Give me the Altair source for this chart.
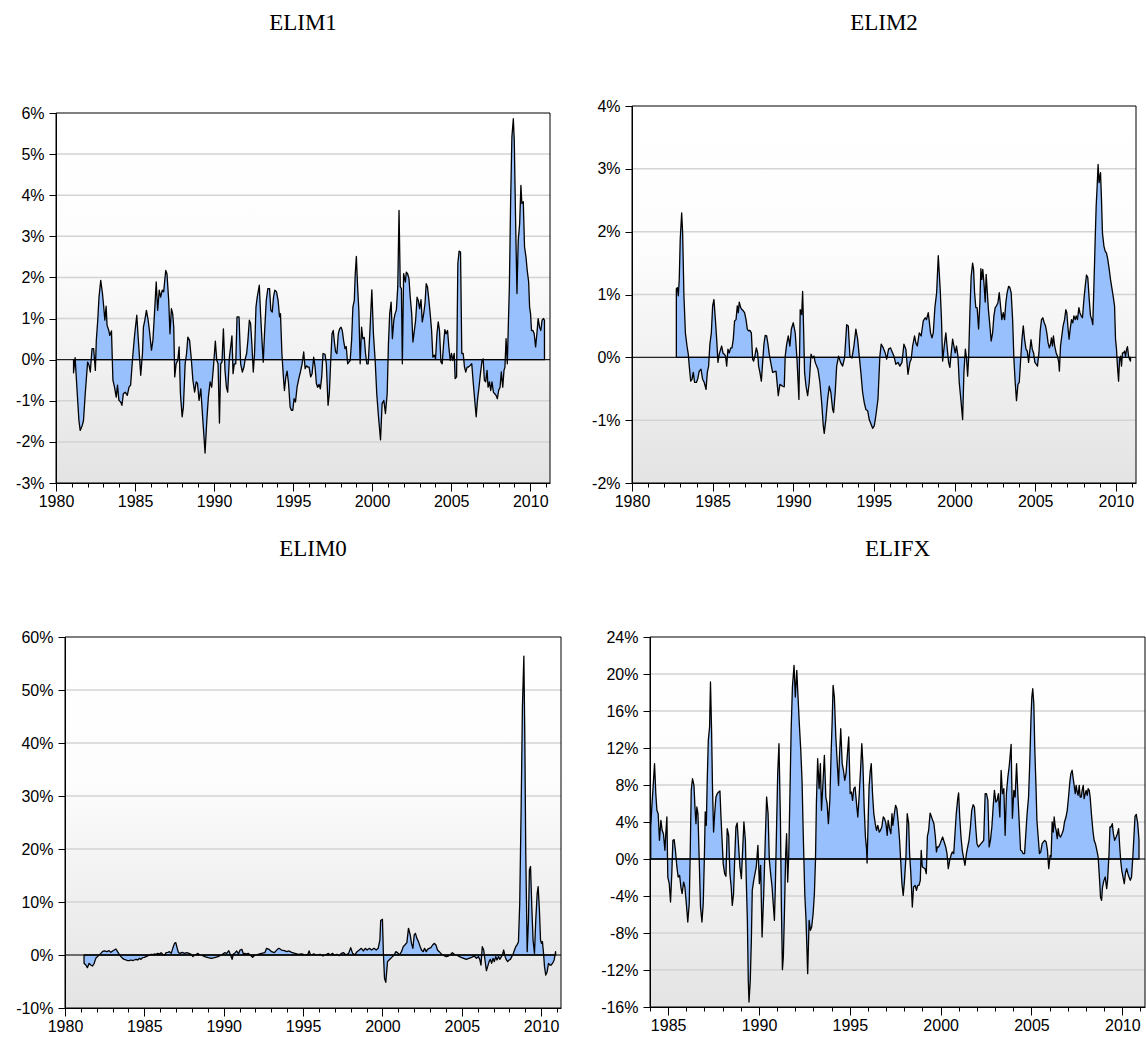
import altair as alt
import pandas as pd

# ---------------- data (decimal year, percent) ----------------
ELIM1 = [
(1981.11,-0.32),(1981.21,0.05),(1981.32,-0.67),(1981.45,-1.48),(1981.53,-1.72),(1981.66,-1.60),(1981.74,-1.48),
(1981.85,-0.83),(1982.00,-0.06),(1982.09,-0.14),(1982.17,-0.30),(1982.28,0.27),(1982.38,0.27),(1982.49,-0.26),
(1982.55,0.47),(1982.64,0.96),(1982.72,1.52),(1982.83,1.93),(1982.94,1.61),(1983.02,1.28),(1983.09,0.96),
(1983.17,1.30),(1983.23,0.84),(1983.34,0.71),(1983.40,0.59),(1983.51,0.70),(1983.60,-0.50),(1983.70,-0.67),
(1983.81,-0.91),(1983.89,-0.62),(1983.98,-0.99),(1984.09,-1.03),(1984.17,-1.11),(1984.26,-0.83),(1984.38,-0.79),
(1984.51,-0.87),(1984.62,-0.67),(1984.72,-0.62),(1984.85,0.06),(1984.98,0.63),(1985.11,1.08),(1985.21,0.47),
(1985.36,-0.38),(1985.47,0.15),(1985.53,0.79),(1985.62,0.96),(1985.72,1.20),(1985.83,0.96),(1985.91,0.71),
(1986.04,0.23),(1986.13,0.47),(1986.23,1.12),(1986.34,1.89),(1986.43,1.20),(1986.53,1.69),(1986.62,1.52),
(1986.72,1.69),(1986.81,1.65),(1986.94,2.17),(1987.02,2.09),(1987.13,1.44),(1987.21,0.63),(1987.30,1.24),
(1987.38,1.12),(1987.45,0.79),(1987.51,-0.42),(1987.60,-0.10),(1987.70,-0.02),(1987.79,0.31),(1987.87,-0.83),
(1987.98,-1.39),(1988.06,-1.15),(1988.17,-0.10),(1988.26,0.15),(1988.34,0.55),(1988.45,0.47),(1988.55,0.06),
(1988.66,-0.50),(1988.77,-0.79),(1988.87,-0.54),(1988.95,-0.58),(1989.05,-0.99),(1989.16,-0.71),(1989.29,-1.48),
(1989.43,-2.27),(1989.54,-1.48),(1989.64,-0.91),(1989.75,-0.54),(1989.85,-0.67),(1989.96,-0.18),(1990.08,0.45),
(1990.17,-0.02),(1990.25,-0.10),(1990.34,-1.54),(1990.42,-0.10),(1990.50,-0.06),(1990.59,0.75),(1990.69,-0.26),
(1990.78,-0.67),(1990.86,-0.79),(1990.97,0.06),(1991.05,0.31),(1991.13,0.58),(1991.20,-0.34),(1991.28,-0.10),
(1991.37,-0.10),(1991.45,1.04),(1991.58,1.04),(1991.68,-0.10),(1991.79,-0.30),(1991.89,-0.18),(1991.97,0.02),
(1992.06,0.15),(1992.14,0.47),(1992.23,0.96),(1992.31,0.88),(1992.40,0.31),(1992.48,-0.30),(1992.56,0.15),
(1992.65,1.28),(1992.73,1.52),(1992.86,1.81),(1992.94,1.12),(1993.03,0.47),(1993.11,-0.06),(1993.19,0.63),
(1993.30,1.44),(1993.40,1.73),(1993.51,1.73),(1993.59,1.20),(1993.68,1.16),(1993.76,1.52),(1993.84,1.69),
(1993.95,1.65),(1994.05,1.44),(1994.14,1.04),(1994.20,1.12),(1994.29,0.15),(1994.37,-0.34),(1994.45,-0.75),
(1994.54,-0.42),(1994.62,-0.28),(1994.71,-0.58),(1994.81,-1.15),(1994.89,-1.23),(1994.98,-1.23),(1995.06,-0.95),
(1995.15,-1.03),(1995.25,-0.67),(1995.36,-0.46),(1995.46,-0.30),(1995.57,-0.10),(1995.67,0.19),(1995.76,-0.22),
(1995.84,-0.15),(1995.92,-0.18),(1996.01,-0.18),(1996.11,-0.42),(1996.20,-0.34),(1996.30,0.06),(1996.39,-0.18),
(1996.47,-0.58),(1996.55,-0.67),(1996.64,-0.60),(1996.72,-0.71),(1996.81,-0.42),(1996.89,0.15),(1997.02,0.13),
(1997.10,-0.10),(1997.21,-1.11),(1997.29,-0.83),(1997.37,-0.10),(1997.46,0.63),(1997.54,0.71),(1997.61,0.43),
(1997.69,0.19),(1997.77,0.15),(1997.86,0.63),(1997.94,0.75),(1998.03,0.79),(1998.11,0.71),(1998.19,0.47),
(1998.28,0.27),(1998.36,0.32),(1998.45,-0.10),(1998.53,-0.06),(1998.61,-0.02),(1998.70,0.47),(1998.78,1.28),
(1998.87,1.44),(1998.93,2.09),(1999.00,2.51),(1999.08,1.77),(1999.16,1.18),(1999.24,-0.10),(1999.33,0.79),
(1999.41,0.51),(1999.50,0.54),(1999.58,0.15),(1999.66,-0.10),(1999.75,-0.10),(1999.85,0.63),(1999.98,1.70),
(2000.08,0.63),(2000.19,-0.02),(2000.29,-0.83),(2000.40,-1.39),(2000.53,-1.95),(2000.63,-1.07),(2000.74,-0.99),
(2000.84,-1.31),(2000.95,-0.83),(2001.03,0.39),(2001.11,1.12),(2001.20,1.40),(2001.28,0.51),(2001.37,0.96),
(2001.45,1.12),(2001.53,1.20),(2001.62,1.77),(2001.70,3.63),(2001.78,1.77),(2001.85,1.73),(2001.91,-0.10),
(2001.99,2.09),(2002.10,1.89),(2002.16,2.13),(2002.24,2.09),(2002.33,1.97),(2002.41,1.52),(2002.50,1.12),
(2002.58,0.43),(2002.67,0.71),(2002.75,0.96),(2002.84,1.52),(2002.92,1.44),(2003.00,1.24),(2003.09,1.46),
(2003.17,0.92),(2003.26,1.12),(2003.34,1.36),(2003.42,1.85),(2003.50,1.77),(2003.59,1.44),(2003.67,1.12),
(2003.76,0.71),(2003.84,0.06),(2003.93,0.11),(2004.01,0.02),(2004.10,0.63),(2004.18,0.92),(2004.26,0.71),
(2004.35,-0.06),(2004.43,-0.10),(2004.52,0.39),(2004.60,0.73),(2004.68,0.63),(2004.77,0.71),(2004.85,0.31),
(2004.94,-0.02),(2005.02,0.15),(2005.10,-0.02),(2005.19,0.15),(2005.25,-0.46),(2005.34,-0.42),(2005.42,2.34),
(2005.50,2.64),(2005.59,2.62),(2005.67,0.15),(2005.76,0.15),(2005.84,-0.18),(2005.92,-0.30),(2006.01,-0.18),
(2006.09,-0.18),(2006.20,-0.14),(2006.30,-0.10),(2006.39,-0.54),(2006.49,-0.99),(2006.58,-1.39),(2006.66,-0.99),
(2006.76,-0.67),(2006.85,-0.34),(2006.95,-0.02),(2007.02,0.02),(2007.10,-0.50),(2007.18,-0.54),(2007.27,-0.26),
(2007.33,-0.67),(2007.42,-0.54),(2007.50,-0.75),(2007.58,-0.54),(2007.67,-0.79),(2007.75,-0.83),(2007.84,-0.87),
(2007.92,-0.95),(2008.00,-0.75),(2008.09,-0.67),(2008.17,-0.30),(2008.26,-0.67),(2008.34,-0.26),(2008.40,-0.18),
(2008.47,0.51),(2008.55,-0.10),(2008.61,0.79),(2008.68,1.77),(2008.76,3.88),(2008.84,5.42),(2008.93,5.86),
(2008.99,5.34),(2009.07,3.47),(2009.16,1.61),(2009.24,2.90),(2009.33,3.31),(2009.41,4.24),(2009.47,3.80),
(2009.56,3.84),(2009.64,2.74),(2009.73,2.50),(2009.81,2.17),(2009.90,1.89),(2009.96,1.28),(2010.02,1.12),
(2010.08,0.71),(2010.17,0.71),(2010.25,0.63),(2010.34,0.31),(2010.42,0.63),(2010.50,1.00),(2010.59,0.79),
(2010.67,0.71),(2010.75,0.96),(2010.84,1.00),(2010.90,0.96),
]

ELIM2 = [
(1982.75,1.09),(1982.81,1.11),(1982.87,0.98),(1982.93,1.24),(1982.99,1.88),(1983.08,2.30),(1983.14,1.98),
(1983.22,0.98),(1983.31,0.39),(1983.41,0.18),(1983.49,0.05),(1983.55,-0.14),(1983.64,-0.38),(1983.72,-0.35),
(1983.80,-0.24),(1983.88,-0.40),(1983.99,-0.40),(1984.07,-0.35),(1984.17,-0.22),(1984.28,-0.19),(1984.38,-0.35),
(1984.48,-0.40),(1984.59,-0.51),(1984.67,-0.24),(1984.75,-0.14),(1984.83,0.21),(1984.92,0.39),(1985.00,0.82),
(1985.08,0.92),(1985.17,0.60),(1985.25,0.29),(1985.33,-0.08),(1985.41,0.05),(1985.50,0.13),(1985.56,0.18),
(1985.64,0.07),(1985.72,0.05),(1985.80,0.02),(1985.87,-0.14),(1985.95,0.13),(1986.03,0.07),(1986.12,0.15),
(1986.20,0.15),(1986.28,0.29),(1986.36,0.58),(1986.45,0.60),(1986.53,0.82),(1986.59,0.71),(1986.65,0.88),
(1986.74,0.79),(1986.82,0.76),(1986.90,0.74),(1986.98,0.71),(1987.07,0.60),(1987.15,0.45),(1987.23,0.42),
(1987.31,0.43),(1987.40,0.39),(1987.48,-0.03),(1987.54,-0.06),(1987.62,0.02),(1987.71,0.15),(1987.79,0.07),
(1987.85,-0.14),(1987.93,-0.24),(1988.02,-0.38),(1988.10,-0.08),(1988.18,0.21),(1988.26,0.35),(1988.35,0.34),
(1988.43,0.21),(1988.51,0.05),(1988.60,-0.08),(1988.72,-0.24),(1988.93,-0.22),(1989.07,-0.61),(1989.17,-0.43),
(1989.34,-0.46),(1989.44,-0.47),(1989.50,0.02),(1989.59,0.21),(1989.69,0.34),(1989.79,0.18),(1989.88,0.45),
(1990.00,0.55),(1990.12,0.39),(1990.23,-0.03),(1990.35,-0.67),(1990.43,0.76),(1990.52,0.68),(1990.58,1.05),
(1990.64,0.45),(1990.70,-0.24),(1990.79,-0.46),(1990.89,-0.61),(1990.99,-0.40),(1991.10,0.05),(1991.20,-0.01),
(1991.28,0.02),(1991.36,-0.08),(1991.45,-0.14),(1991.53,-0.19),(1991.65,-0.40),(1991.76,-0.72),(1991.86,-1.09),
(1991.92,-1.21),(1992.02,-0.99),(1992.13,-0.67),(1992.23,-0.46),(1992.33,-0.56),(1992.44,-0.83),(1992.50,-0.88),
(1992.60,-0.56),(1992.69,-0.14),(1992.81,0.02),(1992.93,-0.08),(1993.06,-0.14),(1993.18,-0.01),(1993.31,0.52),
(1993.41,0.50),(1993.51,0.02),(1993.64,-0.01),(1993.76,0.18),(1993.88,0.45),(1993.99,0.29),(1994.09,0.02),
(1994.19,-0.24),(1994.30,-0.56),(1994.40,-0.72),(1994.50,-0.83),(1994.61,-0.85),(1994.71,-0.99),(1994.92,-1.13),
(1995.02,-1.09),(1995.12,-0.93),(1995.25,-0.67),(1995.37,0.02),(1995.45,0.21),(1995.58,0.15),(1995.70,0.07),
(1995.79,-0.03),(1995.91,0.13),(1996.03,0.15),(1996.16,0.07),(1996.24,0.02),(1996.36,-0.11),(1996.49,-0.08),
(1996.61,-0.14),(1996.74,-0.08),(1996.86,0.21),(1996.98,0.13),(1997.11,-0.27),(1997.23,-0.08),(1997.31,-0.03),
(1997.40,0.18),(1997.52,0.34),(1997.60,0.23),(1997.69,0.18),(1997.81,0.39),(1997.93,0.34),(1998.06,0.58),
(1998.18,0.63),(1998.26,0.60),(1998.37,0.71),(1998.43,0.58),(1998.51,0.39),(1998.60,0.31),(1998.68,0.39),
(1998.78,0.79),(1998.89,1.03),(1998.99,1.62),(1999.11,1.08),(1999.19,0.60),(1999.26,-0.06),(1999.36,0.18),
(1999.46,0.39),(1999.55,0.13),(1999.63,-0.08),(1999.71,-0.16),(1999.79,0.07),(1999.88,0.29),(1999.96,0.18),
(2000.04,0.07),(2000.12,0.18),(2000.21,0.02),(2000.29,-0.40),(2000.39,-0.67),(2000.50,-0.99),(2000.58,-0.24),
(2000.67,0.13),(2000.74,-0.01),(2000.81,-0.30),(2000.87,-0.03),(2000.95,0.71),(2001.03,1.29),(2001.12,1.50),
(2001.18,1.40),(2001.24,1.03),(2001.32,0.79),(2001.40,0.79),(2001.49,0.45),(2001.57,0.87),(2001.63,1.41),
(2001.69,1.24),(2001.75,1.40),(2001.82,1.19),(2001.90,0.88),(2001.96,1.32),(2002.02,1.08),(2002.10,0.76),
(2002.19,0.50),(2002.27,0.26),(2002.36,0.39),(2002.44,0.66),(2002.52,0.79),(2002.60,0.82),(2002.69,0.87),
(2002.77,1.03),(2002.85,0.82),(2002.93,0.60),(2003.02,0.71),(2003.10,0.60),(2003.18,0.87),(2003.26,1.03),
(2003.35,1.13),(2003.43,1.11),(2003.51,1.03),(2003.60,0.60),(2003.68,-0.03),(2003.76,-0.40),(2003.84,-0.69),
(2003.93,-0.43),(2004.01,-0.40),(2004.10,-0.03),(2004.18,0.29),(2004.26,0.50),(2004.34,0.29),(2004.43,0.13),
(2004.51,0.10),(2004.59,-0.08),(2004.65,0.07),(2004.74,0.28),(2004.82,0.13),(2004.90,0.07),(2004.98,-0.08),
(2005.06,-0.11),(2005.14,-0.14),(2005.23,0.07),(2005.31,0.42),(2005.39,0.60),(2005.47,0.63),(2005.56,0.55),
(2005.64,0.50),(2005.72,0.39),(2005.80,0.23),(2005.88,0.15),(2005.95,0.21),(2006.01,0.31),(2006.07,0.18),
(2006.13,0.34),(2006.21,0.18),(2006.30,0.07),(2006.38,0.02),(2006.46,-0.08),(2006.50,-0.22),(2006.57,0.18),
(2006.65,0.34),(2006.73,0.50),(2006.82,0.60),(2006.90,0.76),(2006.96,0.71),(2007.04,0.45),(2007.10,0.29),
(2007.17,0.45),(2007.25,0.60),(2007.33,0.55),(2007.40,0.66),(2007.48,0.60),(2007.54,0.66),(2007.62,0.60),
(2007.71,0.79),(2007.77,0.71),(2007.85,0.66),(2007.93,0.63),(2008.02,0.92),(2008.10,1.13),(2008.18,1.31),
(2008.26,1.27),(2008.35,0.92),(2008.43,0.66),(2008.51,0.60),(2008.57,0.52),(2008.64,1.13),(2008.72,1.88),
(2008.78,2.41),(2008.84,2.72),(2008.90,3.07),(2008.96,2.78),(2009.05,2.94),(2009.11,2.51),(2009.17,1.98),
(2009.26,1.77),(2009.34,1.69),(2009.42,1.66),(2009.50,1.56),(2009.59,1.40),(2009.67,1.24),(2009.75,1.11),
(2009.83,0.98),(2009.92,0.82),(2009.98,0.29),(2010.04,0.13),(2010.10,-0.14),(2010.17,-0.38),(2010.23,-0.03),
(2010.29,0.02),(2010.35,-0.14),(2010.41,0.07),(2010.48,0.07),(2010.54,0.10),(2010.60,0.02),(2010.66,0.12),
(2010.72,0.17),(2010.79,0.02),(2010.85,-0.03),(2010.91,-0.06),
]

ELIM0 = [
(1981.20,-1.57),(1981.31,-1.89),(1981.41,-2.39),(1981.52,-1.57),(1981.62,-1.89),(1981.73,-2.08),(1981.84,-1.57),
(1981.94,-0.63),(1982.05,-0.31),(1982.15,0.00),(1982.26,0.31),(1982.36,0.63),(1982.47,0.76),(1982.64,0.63),
(1982.78,0.82),(1982.89,0.50),(1983.00,0.76),(1983.10,0.94),(1983.21,1.13),(1983.31,0.63),(1983.42,0.13),
(1983.52,-0.31),(1983.63,-0.63),(1983.73,-0.82),(1983.84,-0.94),(1983.95,-1.07),(1984.05,-1.07),(1984.16,-0.94),
(1984.26,-1.07),(1984.37,-0.94),(1984.47,-0.82),(1984.58,-0.94),(1984.68,-0.63),(1984.79,-0.82),(1984.89,-0.50),
(1985.00,-0.44),(1985.11,-0.31),(1985.21,-0.19),(1985.32,0.00),(1985.42,0.13),(1985.53,0.06),(1985.63,0.19),
(1985.74,0.13),(1985.84,0.31),(1985.95,0.19),(1986.05,0.44),(1986.16,0.13),(1986.27,-0.06),(1986.37,0.44),
(1986.48,0.50),(1986.58,0.63),(1986.69,0.31),(1986.79,1.26),(1986.90,2.20),(1986.98,2.33),(1987.07,1.26),
(1987.15,0.44),(1987.26,0.31),(1987.38,0.50),(1987.53,0.31),(1987.68,0.44),(1987.81,0.31),(1987.95,0.13),
(1988.06,-0.31),(1988.16,0.00),(1988.27,0.13),(1988.38,0.31),(1988.48,0.00),(1988.59,0.00),(1988.80,-0.31),
(1989.01,-0.50),(1989.22,-0.63),(1989.43,-0.50),(1989.64,-0.31),(1989.85,0.00),(1990.06,0.44),(1990.19,0.31),
(1990.32,0.82),(1990.43,0.00),(1990.53,-0.82),(1990.61,0.19),(1990.72,0.44),(1990.82,0.76),(1990.93,0.19),
(1991.03,0.94),(1991.14,1.07),(1991.24,0.19),(1991.33,0.31),(1991.44,0.19),(1991.54,0.31),(1991.67,0.00),
(1991.82,-0.44),(1991.96,-0.06),(1992.17,0.13),(1992.38,0.31),(1992.59,0.44),(1992.70,1.26),(1992.85,1.07),
(1993.02,0.63),(1993.19,0.44),(1993.38,1.07),(1993.48,1.26),(1993.65,0.94),(1993.82,0.82),(1993.97,0.63),
(1994.12,0.76),(1994.28,0.50),(1994.49,0.31),(1994.70,0.13),(1994.92,0.19),(1995.13,0.00),(1995.30,0.13),
(1995.38,0.76),(1995.47,0.00),(1995.66,0.19),(1995.87,0.00),(1996.08,0.13),(1996.25,-0.19),(1996.39,0.00),
(1996.60,0.31),(1996.71,0.00),(1996.86,0.31),(1996.98,-0.06),(1997.13,0.13),(1997.28,-0.13),(1997.41,0.31),
(1997.55,0.44),(1997.70,0.00),(1997.87,0.31),(1998.00,1.39),(1998.12,0.31),(1998.25,0.00),(1998.40,0.63),
(1998.54,0.94),(1998.67,1.26),(1998.80,0.76),(1998.92,1.26),(1999.03,0.94),(1999.18,1.26),(1999.31,0.94),
(1999.47,1.26),(1999.61,0.94),(1999.73,1.26),(1999.84,2.83),(1999.89,6.49),(2000.00,6.74),(2000.06,0.31),
(2000.13,-4.41),(2000.21,-5.16),(2000.32,-1.26),(2000.42,-0.94),(2000.53,-0.63),(2000.63,-0.31),(2000.74,0.00),
(2000.84,0.63),(2000.95,0.44),(2001.07,0.00),(2001.20,0.63),(2001.31,1.57),(2001.41,1.89),(2001.54,2.33),
(2001.64,5.04),(2001.75,3.78),(2001.83,2.20),(2001.92,1.26),(2002.00,3.78),(2002.08,4.09),(2002.17,3.15),
(2002.27,2.52),(2002.38,1.57),(2002.46,0.94),(2002.57,0.63),(2002.65,1.26),(2002.76,0.63),(2002.84,1.07),
(2002.95,1.26),(2003.05,1.39),(2003.16,1.89),(2003.26,2.20),(2003.37,1.89),(2003.47,0.94),(2003.58,0.63),
(2003.68,0.31),(2003.79,0.00),(2003.89,-0.13),(2004.02,-0.31),(2004.15,-0.19),(2004.27,0.00),(2004.40,0.44),
(2004.53,0.13),(2004.65,0.00),(2004.78,-0.19),(2004.95,-0.44),(2005.12,-0.63),(2005.28,-0.82),(2005.45,-0.63),
(2005.62,-0.44),(2005.79,-0.19),(2005.92,-0.63),(2006.04,-0.31),(2006.13,-0.82),(2006.21,-1.89),(2006.29,1.57),
(2006.38,0.94),(2006.46,-0.94),(2006.55,-2.96),(2006.63,-2.20),(2006.72,-1.26),(2006.80,-0.82),(2006.88,-1.57),
(2006.97,-0.63),(2007.05,-1.26),(2007.14,-0.31),(2007.22,-0.94),(2007.31,-0.31),(2007.39,-0.82),(2007.47,-0.44),
(2007.56,0.00),(2007.64,0.94),(2007.73,-0.31),(2007.81,-0.94),(2007.89,-1.26),(2007.98,-0.94),(2008.06,-0.82),
(2008.15,-0.31),(2008.23,0.13),(2008.32,0.94),(2008.40,1.57),(2008.48,1.89),(2008.57,2.52),(2008.65,9.76),
(2008.74,28.0),(2008.82,46.9),(2008.91,56.4),(2008.97,41.2),(2009.03,19.2),(2009.12,0.63),(2009.20,6.61),
(2009.26,16.1),(2009.33,16.7),(2009.41,9.10),(2009.49,2.83),(2009.58,0.31),(2009.66,6.61),(2009.75,11.65),
(2009.81,12.9),(2009.89,8.50),(2009.96,2.83),(2010.02,2.20),(2010.08,2.52),(2010.15,0.31),(2010.21,-2.20),
(2010.29,-3.78),(2010.38,-3.15),(2010.46,-1.57),(2010.55,-1.89),(2010.63,-1.89),(2010.74,-1.45),(2010.82,-0.94),
(2010.91,0.63),
]

ELIFX = [
(1984.04,3.46),(1984.10,5.62),(1984.17,7.78),(1984.25,10.31),(1984.32,7.06),(1984.38,5.26),(1984.45,4.90),
(1984.52,2.02),(1984.60,4.18),(1984.67,3.10),(1984.74,2.74),(1984.82,0.94),(1984.87,2.74),(1984.93,4.54),
(1984.98,-1.95),(1985.06,-2.67),(1985.13,-4.65),(1985.20,-1.59),(1985.26,2.02),(1985.33,2.09),(1985.40,0.94),
(1985.48,-0.86),(1985.55,-1.95),(1985.63,-1.77),(1985.70,-3.03),(1985.77,-3.75),(1985.85,-2.49),(1985.92,-3.03),
(1986.00,-4.83),(1986.08,-6.81),(1986.16,-4.83),(1986.21,0.22),(1986.27,7.42),(1986.34,8.68),(1986.42,7.96),
(1986.47,5.80),(1986.53,3.82),(1986.58,5.62),(1986.64,4.90),(1986.71,-0.14),(1986.78,-5.19),(1986.86,-6.81),
(1986.93,-4.83),(1986.99,-0.14),(1987.04,5.08),(1987.10,3.64),(1987.15,8.50),(1987.21,12.83),(1987.28,14.27),
(1987.33,19.14),(1987.39,13.91),(1987.44,7.78),(1987.50,2.92),(1987.56,4.90),(1987.63,6.70),(1987.70,7.06),
(1987.78,7.24),(1987.85,7.35),(1987.90,4.90),(1987.96,2.38),(1988.03,-0.50),(1988.11,-1.59),(1988.18,-1.87),
(1988.25,3.28),(1988.33,2.56),(1988.40,-1.59),(1988.47,-3.03),(1988.53,-5.01),(1988.60,-3.75),(1988.66,-0.14),
(1988.73,3.46),(1988.80,3.89),(1988.88,1.30),(1988.95,-0.86),(1989.03,-2.13),(1989.10,0.94),(1989.17,4.00),
(1989.25,2.02),(1989.30,-2.31),(1989.36,-6.63),(1989.41,-13.12),(1989.45,-15.46),(1989.52,-13.12),(1989.58,-8.79),
(1989.63,-3.39),(1989.71,-2.31),(1989.78,-1.59),(1989.85,-0.86),(1989.94,1.48),(1990.02,-2.67),(1990.09,-0.68),
(1990.17,-8.43),(1990.26,-3.75),(1990.35,2.38),(1990.42,6.70),(1990.50,4.90),(1990.57,-0.14),(1990.64,-1.59),
(1990.72,-3.03),(1990.77,-4.47),(1990.85,-6.63),(1990.90,-3.03),(1990.96,2.74),(1991.03,9.23),(1991.10,12.47),
(1991.18,4.18),(1991.23,-4.83),(1991.29,-11.96),(1991.34,-10.59),(1991.40,-5.91),(1991.47,0.58),(1991.52,2.74),
(1991.58,-2.49),(1991.64,0.58),(1991.69,5.62),(1991.77,13.91),(1991.84,18.59),(1991.93,20.94),(1992.00,17.51),
(1992.08,20.40),(1992.15,17.51),(1992.22,14.63),(1992.30,11.75),(1992.37,8.50),(1992.44,2.38),(1992.52,-3.75),
(1992.59,-6.63),(1992.68,-12.40),(1992.76,-6.63),(1992.83,-7.71),(1992.90,-7.35),(1992.98,-5.91),(1993.05,-3.75),
(1993.11,-0.14),(1993.16,5.98),(1993.23,10.85),(1993.31,7.60),(1993.38,10.31),(1993.44,5.26),(1993.51,7.78),
(1993.60,11.21),(1993.68,6.70),(1993.75,5.98),(1993.82,3.82),(1993.90,6.34),(1993.97,11.39),(1994.03,14.99),
(1994.08,18.77),(1994.15,17.51),(1994.23,13.19),(1994.30,10.67),(1994.38,7.96),(1994.43,11.03),(1994.50,14.09),
(1994.58,10.31),(1994.65,9.59),(1994.72,8.50),(1994.79,9.23),(1994.87,11.39),(1994.94,13.19),(1995.02,7.06),
(1995.09,7.24),(1995.15,6.34),(1995.22,7.60),(1995.29,7.78),(1995.37,5.98),(1995.44,4.54),(1995.51,6.70),
(1995.59,9.59),(1995.66,12.47),(1995.72,10.31),(1995.79,5.62),(1995.86,2.38),(1995.92,1.12),(1995.95,-0.43),
(1996.01,4.18),(1996.06,7.78),(1996.12,9.41),(1996.18,10.31),(1996.25,7.06),(1996.32,4.90),(1996.40,3.82),
(1996.47,3.10),(1996.54,3.64),(1996.62,2.92),(1996.69,3.10),(1996.76,3.46),(1996.84,4.54),(1996.91,4.36),
(1996.99,3.82),(1997.06,2.56),(1997.11,4.18),(1997.19,3.28),(1997.26,2.74),(1997.32,4.90),(1997.37,3.64),
(1997.45,4.90),(1997.52,5.80),(1997.59,5.44),(1997.67,3.82),(1997.74,2.02),(1997.80,-0.14),(1997.87,-2.67),
(1997.94,-3.93),(1998.01,-2.31),(1998.09,0.22),(1998.16,4.90),(1998.24,3.82),(1998.29,0.58),(1998.36,-1.59),
(1998.44,-5.19),(1998.51,-3.03),(1998.60,-2.85),(1998.67,-3.39),(1998.74,-2.85),(1998.81,-2.85),(1998.88,-2.31),
(1998.93,0.94),(1998.99,-0.86),(1999.06,-0.94),(1999.14,-1.05),(1999.21,-1.59),(1999.27,2.45),(1999.34,3.10),
(1999.42,4.97),(1999.49,4.61),(1999.56,4.18),(1999.63,3.82),(1999.71,2.38),(1999.77,0.76),(1999.82,1.30),
(1999.89,1.30),(1999.97,1.66),(2000.04,2.02),(2000.11,2.38),(2000.28,1.30),(2000.35,0.58),(2000.42,-1.05),
(2000.50,-0.14),(2000.57,0.40),(2000.64,0.76),(2000.72,0.58),(2000.79,2.74),(2000.86,4.90),(2000.94,6.52),
(2000.99,7.14),(2001.05,4.54),(2001.12,2.38),(2001.19,0.94),(2001.27,0.04),(2001.34,-0.68),(2001.42,0.58),
(2001.49,1.30),(2001.56,2.02),(2001.64,3.46),(2001.71,5.26),(2001.79,5.87),(2001.86,5.62),(2001.93,3.46),
(2002.00,1.66),(2002.08,1.30),(2002.15,1.48),(2002.22,1.66),(2002.30,1.84),(2002.37,2.02),(2002.45,7.06),
(2002.52,7.06),(2002.60,6.34),(2002.67,1.30),(2002.74,2.02),(2002.82,3.46),(2002.89,5.62),(2002.96,7.42),
(2003.04,6.16),(2003.11,6.34),(2003.18,7.06),(2003.26,4.54),(2003.33,9.59),(2003.40,7.06),(2003.48,7.60),
(2003.55,2.56),(2003.62,7.06),(2003.70,8.86),(2003.77,9.95),(2003.82,11.03),(2003.88,12.40),(2003.95,4.40),
(2004.03,7.42),(2004.10,6.70),(2004.18,10.31),(2004.25,7.06),(2004.32,4.18),(2004.40,0.94),(2004.47,0.86),
(2004.54,0.58),(2004.62,0.58),(2004.69,2.74),(2004.76,4.90),(2004.84,6.70),(2004.91,10.67),(2004.97,14.99),
(2005.02,17.51),(2005.07,18.41),(2005.13,16.79),(2005.18,12.11),(2005.25,7.78),(2005.30,4.18),(2005.37,2.38),
(2005.44,0.58),(2005.51,0.76),(2005.59,1.66),(2005.66,1.84),(2005.73,2.02),(2005.81,1.84),(2005.88,0.94),
(2005.95,-1.05),(2006.03,0.40),(2006.08,0.22),(2006.14,4.00),(2006.20,2.92),(2006.25,4.54),(2006.31,3.46),
(2006.36,3.10),(2006.42,2.20),(2006.47,3.28),(2006.53,2.56),(2006.60,2.38),(2006.68,2.74),(2006.75,3.10),
(2006.82,4.00),(2006.90,4.54),(2006.97,5.26),(2007.04,6.70),(2007.12,8.50),(2007.17,9.23),(2007.24,9.59),
(2007.30,8.68),(2007.35,7.96),(2007.41,7.06),(2007.46,7.96),(2007.52,7.24),(2007.57,6.88),(2007.63,7.96),
(2007.68,6.70),(2007.74,6.70),(2007.79,7.42),(2007.85,7.96),(2007.90,6.52),(2007.96,7.06),(2008.01,7.42),
(2008.07,6.88),(2008.12,7.60),(2008.18,7.42),(2008.23,6.70),(2008.30,4.90),(2008.38,3.10),(2008.45,2.02),
(2008.52,1.66),(2008.60,0.94),(2008.67,0.22),(2008.75,-2.31),(2008.80,-4.11),(2008.86,-4.47),(2008.91,-3.03),
(2008.99,-2.31),(2009.06,-1.95),(2009.14,-3.21),(2009.19,-2.31),(2009.27,0.58),(2009.32,3.46),(2009.38,3.46),
(2009.45,3.82),(2009.51,2.74),(2009.58,2.02),(2009.66,2.38),(2009.73,2.74),(2009.80,3.28),(2009.86,1.30),
(2009.91,-0.14),(2009.97,-1.23),(2010.04,-1.95),(2010.11,-2.67),(2010.17,-1.59),(2010.24,-1.05),(2010.31,-1.59),
(2010.37,-1.95),(2010.44,-2.31),(2010.51,-1.95),(2010.58,0.22),(2010.65,2.74),(2010.70,4.61),(2010.77,4.83),
(2010.85,3.82),(2010.92,2.02),
]

Y_TICKS = {
    "ELIM1": [-3, -2, -1, 0, 1, 2, 3, 4, 5, 6],
    "ELIM2": [-2, -1, 0, 1, 2, 3, 4],
    "ELIM0": [-10, 0, 10, 20, 30, 40, 50, 60],
    "ELIFX": [-16, -12, -8, -4, 0, 4, 8, 12, 16, 20, 24],
}
X_START = {"ELIM1": 1980, "ELIM2": 1980, "ELIM0": 1980, "ELIFX": 1984}
X_END = 2011.25

FILL = "#98c0fc"
FONT = "Liberation Sans"
TFONT = "Liberation Serif"
ONE = alt.Data(values=[{}])


def panel(name, series, width, height, toffset):
    df = pd.DataFrame(series, columns=["t", "v"])
    yt = Y_TICKS[name]
    x0 = X_START[name]
    xvals = list(range(x0, 2012))
    xs = alt.Scale(domain=[x0, X_END], nice=False, zero=False)
    ys = alt.Scale(domain=[yt[0], yt[-1]], nice=False, zero=False)
    xaxis = alt.Axis(
        values=xvals, tickCount=len(xvals) + 5,
        labelExpr="datum.value % 5 == 0 ? datum.value : ''",
        tickSize={"condition": {"test": "datum.value % 5 == 0", "value": 8}, "value": 4},
        labelFlush=False, labelOverlap=False, grid=False, title=None,
        domainColor="black", tickColor="black", labelColor="black",
        labelFont=FONT, labelFontSize=16, labelPadding=2, zindex=1,
    )
    yaxis = alt.Axis(
        values=yt, tickCount=len(yt) + 5, labelExpr="datum.value + '%'",
        tickSize=7, labelPadding=5,
        labelOverlap=False, grid=False, title=None, domainColor="black", tickColor="black",
        labelColor="black", labelFont=FONT, labelFontSize=16, zindex=1,
    )
    bg = alt.Chart(ONE).mark_rect(
        color=alt.LinearGradient(
            gradient="linear", x1=0, x2=0, y1=0, y2=1,
            stops=[alt.GradientStop(color="#ffffff", offset=0),
                   alt.GradientStop(color="#fdfdfd", offset=0.38),
                   alt.GradientStop(color="#e3e3e3", offset=1)])
    ).encode(x=alt.value(0), x2=alt.value("width"), y=alt.value(0), y2=alt.value("height"))
    grid = alt.Chart(pd.DataFrame({"v": yt[1:-1]})).mark_rule(
        color="#d3d3d3", strokeWidth=1.5
    ).encode(y=alt.Y("v:Q", scale=ys, axis=yaxis))
    area = alt.Chart(df).mark_area(
        color=FILL, stroke="black", strokeWidth=1.3, strokeJoin="round"
    ).encode(
        x=alt.X("t:Q", scale=xs, axis=xaxis),
        y=alt.Y("v:Q", scale=ys, axis=yaxis, stack=None),
        y2=alt.datum(0),
    )
    zero = alt.Chart(ONE).mark_rule(color="black", strokeWidth=1).encode(y=alt.datum(0))
    frame = alt.Chart(ONE).mark_rect(fillOpacity=0, stroke="black", strokeWidth=1).encode(
        x=alt.value(0), x2=alt.value("width"), y=alt.value(0), y2=alt.value("height"))
    return alt.layer(bg, grid, area, zero, frame).properties(
        width=width, height=height,
        title=alt.TitleParams(name, font=TFONT, fontSize=23, fontWeight="normal",
                              color="black", anchor="middle", frame="group", offset=toffset),
    )


def spacer():
    # invisible 1x1 cell used only to steer the grid layout
    return alt.Chart(ONE).mark_rule(opacity=0, strokeWidth=0).encode(
        x=alt.value(0), x2=alt.value(0), y=alt.value(0), y2=alt.value(0)
    ).properties(width=1, height=1)


def wrap(p):
    # cell whose origin is its top edge, so titles line up while plot tops may differ
    return alt.vconcat(spacer(), p, spacing=0)


p1 = panel("ELIM1", ELIM1, 494, 370, 70)
p2 = panel("ELIM2", ELIM2, 504, 377, 63)
p3 = panel("ELIM0", ELIM0, 496, 371, 68)
p4 = panel("ELIFX", ELIFX, 495, 370, 68)

chart = alt.concat(
    spacer(), wrap(p1), wrap(p2),
    spacer(), wrap(p3), wrap(p4),
    columns=3, align="none", spacing={"row": 28, "column": 38},
).properties(
    padding={"left": -24, "top": 11, "right": 0, "bottom": 0},
    background="white",
).configure_view(strokeWidth=0)

chart.save("out.html", embed_options={"renderer": "svg", "actions": False})
